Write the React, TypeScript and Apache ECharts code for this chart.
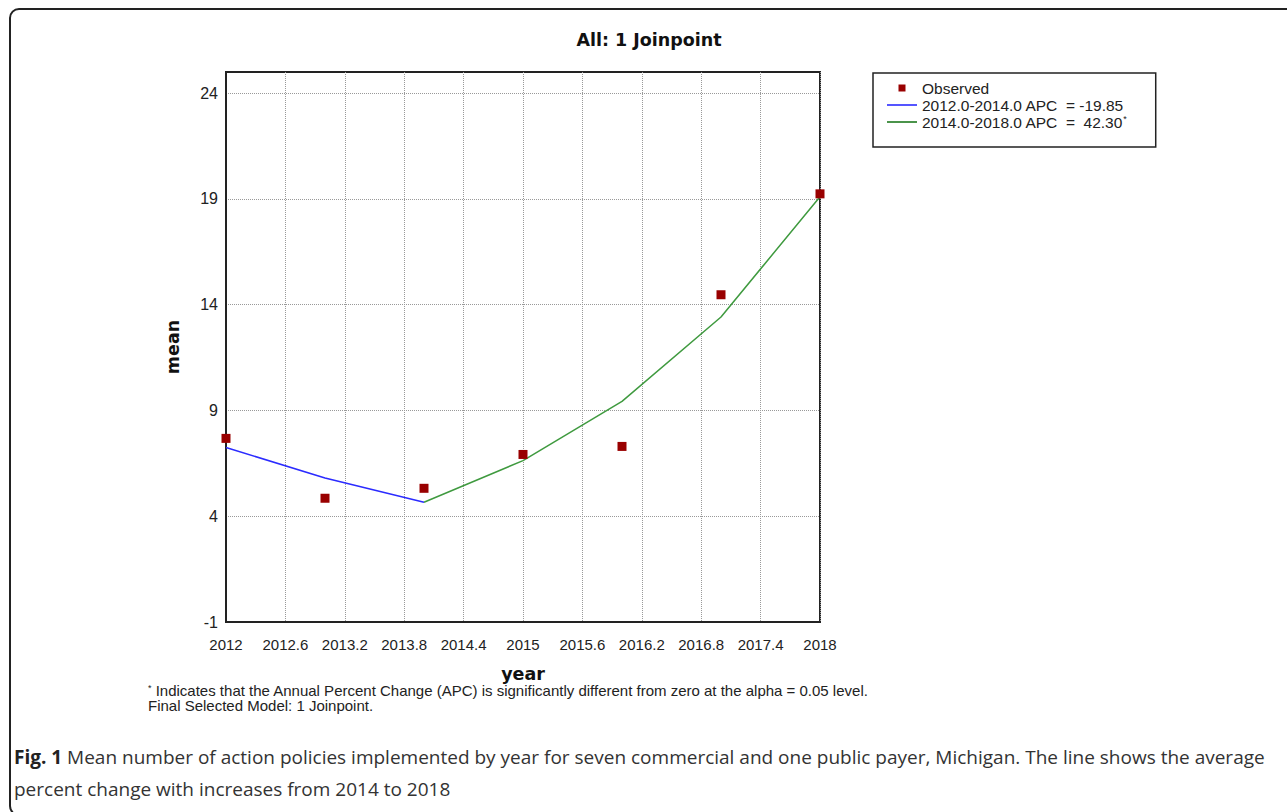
import React, { useEffect, useRef } from 'react';
import * as echarts from 'echarts';

const years = [2012, 2013, 2014, 2015, 2016, 2017, 2018];
const observed = [7.68, 4.85, 5.32, 6.92, 7.3, 14.47, 19.24];
const seg1Years = [2012, 2013, 2014];
const seg1Fit = [7.25, 5.81, 4.66];
const seg2Years = [2014, 2015, 2016, 2017, 2018];
const seg2Fit = [4.66, 6.63, 9.43, 13.42, 19.1];
const xTickLabels = ['2012', '2012.6', '2013.2', '2013.8', '2014.4', '2015', '2015.6', '2016.2', '2016.8', '2017.4', '2018'];
const yTickLabels = ['-1', '4', '9', '14', '19', '24'];
const seriesNames = ['Observed', '2012.0-2014.0 APC  = -19.85', '2014.0-2018.0 APC  =  42.30*'];
const titleText = 'All: 1 Joinpoint';
const footnote1 = ' Indicates that the Annual Percent Change (APC) is significantly different from zero at the alpha = 0.05 level.';
const footnote2 = 'Final Selected Model: 1 Joinpoint.';
const captionLine1 = ' Mean number of action policies implemented by year for seven commercial and one public payer, Michigan. The line shows the average';
const captionLine2 = 'percent change with increases from 2014 to 2018';

const SANS = "'Liberation Sans', Arial, sans-serif";
const VERDANA = "'DejaVu Sans', Verdana, sans-serif";
const CAPTION = "'Open Sans', 'Noto Sans', sans-serif";

export default function App() {
  const ref = useRef<HTMLDivElement>(null);
  useEffect(() => {
    if (!ref.current) return;
    const chart = echarts.init(ref.current, null, { renderer: 'svg' });
    const xTicks = xTickLabels.map(Number);
    const yTicks = yTickLabels.map(Number);
    chart.setOption({
      animation: false,
      backgroundColor: '#ffffff',
      title: {
        text: titleText,
        left: 644,
        textAlign: 'center',
        top: 26,
        textStyle: { fontFamily: VERDANA, fontWeight: 'bold', fontSize: 17.5, color: '#111' },
      },
      legend: {
        orient: 'vertical',
        left: 873,
        top: 73,
        padding: [7, 29, 17, 14],
        borderColor: '#222',
        borderWidth: 1.5,
        itemWidth: 30,
        itemHeight: 7,
        itemGap: 1,
        data: [
          { name: seriesNames[0], icon: 'path://M0,0h1v1h-1z' },
          { name: seriesNames[1], icon: 'path://M0,0h30v1.6h-30z' },
          { name: seriesNames[2], icon: 'path://M0,0h30v1.6h-30z' },
        ],
        formatter: (name: string) => (name.endsWith('*') ? name.slice(0, -1) + '{sup|*}' : name),
        textStyle: {
          fontFamily: SANS,
          fontSize: 15.5,
          color: '#222',
          lineHeight: 15,
          rich: {
            sup: { fontFamily: SANS, fontSize: 9, color: '#222', verticalAlign: 'top', lineHeight: 15 },
          },
        },
      },
      grid: {
        left: 226,
        right: 467,
        top: 72,
        bottom: 190,
        show: true,
        borderColor: '#222',
        borderWidth: 2,
      },
      xAxis: {
        type: 'value',
        min: xTicks[0],
        max: xTicks[xTicks.length - 1],
        name: 'year',
        nameLocation: 'middle',
        nameGap: 43,
        nameTextStyle: { fontFamily: VERDANA, fontWeight: 'bold', fontSize: 17.5, lineHeight: 17, color: '#111' },
        axisLine: { show: true, onZero: false, lineStyle: { color: '#222', width: 2 } },
        axisTick: { show: false, customValues: xTicks },
        axisLabel: {
          customValues: xTicks,
          formatter: (v: number) => xTickLabels[xTicks.indexOf(v)] ?? String(v),
          margin: 15,
          fontFamily: SANS,
          fontSize: 15,
          color: '#222',
        },
        splitLine: { show: true, lineStyle: { color: '#999', type: 'dotted', width: 1 } },
      },
      yAxis: {
        type: 'value',
        min: -1,
        max: 25,
        name: 'mean',
        nameLocation: 'middle',
        nameGap: 44,
        nameTextStyle: { fontFamily: VERDANA, fontWeight: 'bold', fontSize: 17.5, color: '#111' },
        axisLine: { show: true, onZero: false, lineStyle: { color: '#222', width: 2 } },
        axisTick: { show: false, customValues: yTicks },
        axisLabel: {
          customValues: yTicks,
          margin: 8,
          fontFamily: SANS,
          fontSize: 16,
          color: '#222',
        },
        splitLine: { show: true, lineStyle: { color: '#999', type: 'dotted', width: 1 } },
      },
      series: [
        {
          name: seriesNames[1],
          type: 'line',
          symbol: 'none',
          data: seg1Years.map((x, i) => [x, seg1Fit[i]]),
          lineStyle: { color: '#2b2bff', width: 1.5 },
          itemStyle: { color: '#2b2bff' },
          z: 2,
        },
        {
          name: seriesNames[2],
          type: 'line',
          symbol: 'none',
          data: seg2Years.map((x, i) => [x, seg2Fit[i]]),
          lineStyle: { color: '#3f9a3f', width: 1.5 },
          itemStyle: { color: '#1f7a1f' },
          z: 2,
        },
        {
          name: seriesNames[0],
          type: 'scatter',
          symbol: 'rect',
          symbolSize: 9,
          data: years.map((x, i) => [x, observed[i]]),
          itemStyle: { color: '#990000', opacity: 1 },
          z: 3,
        },
      ],
      graphic: [
        {
          type: 'rect',
          shape: { x: 10, y: 9, width: 1400, height: 806, r: 9 },
          style: { fill: 'none', stroke: '#222', lineWidth: 2 },
          silent: true,
        },
        {
          type: 'text',
          left: 148,
          top: 683,
          style: {
            text: '{s|*}' + footnote1 + '\n' + footnote2,
            fontFamily: SANS,
            fontSize: 15,
            lineHeight: 15,
            fill: '#222',
            rich: { s: { fontFamily: SANS, fontSize: 9, verticalAlign: 'top', lineHeight: 15, fill: '#222' } },
          },
        },
        {
          type: 'text',
          left: 14,
          top: 741,
          style: {
            text: '{b|Fig. 1}' + captionLine1 + '\n' + captionLine2,
            fontFamily: CAPTION,
            fontSize: 19,
            lineHeight: 32,
            fill: '#333',
            rich: { b: { fontFamily: CAPTION, fontSize: 19, fontWeight: 'bold', fill: '#222', lineHeight: 32 } },
          },
        },
      ],
    });
    return () => chart.dispose();
  }, []);
  return <div ref={ref} style={{ position: 'fixed', left: 0, top: 0, width: 1287, height: 812 }} />;
}
